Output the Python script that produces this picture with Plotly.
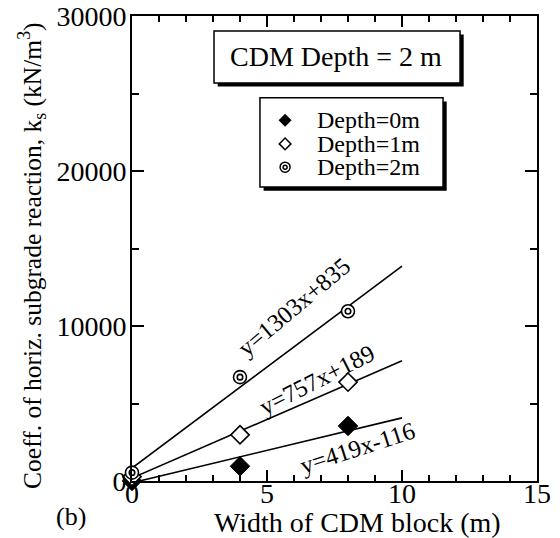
import plotly.graph_objects as go

# ---- data ----
width_m = [0, 4, 8]
ks_depth0 = [0, 950, 3550]
ks_depth1 = [280, 2980, 6380]
ks_depth2 = [540, 6700, 10950]

fit_slopes = [419, 757, 1303]
fit_intercepts = [-116, 189, 835]
fit_labels = ["y=419x-116", "y=757x+189", "y=1303x+835"]
fit_x = [0, 10]

legend_labels = ["Depth=0m", "Depth=1m", "Depth=2m"]

FONT = "Liberation Serif, Times New Roman, serif"
BLK = "black"

fig = go.Figure()

# fit lines
for m, b in zip(fit_slopes, fit_intercepts):
    fig.add_trace(go.Scatter(x=fit_x, y=[m * x + b for x in fit_x], mode="lines",
                             line=dict(color=BLK, width=1.6), showlegend=False,
                             hoverinfo="skip"))

# data markers
fig.add_trace(go.Scatter(x=width_m, y=ks_depth0, mode="markers", cliponaxis=False,
                         marker=dict(symbol="diamond", size=15, color=BLK,
                                     line=dict(color=BLK, width=1)), showlegend=False))
fig.add_trace(go.Scatter(x=width_m, y=ks_depth1, mode="markers", cliponaxis=False,
                         marker=dict(symbol="diamond", size=14, color="white",
                                     line=dict(color=BLK, width=1.6)), showlegend=False))
fig.add_trace(go.Scatter(x=width_m, y=ks_depth2, mode="markers", cliponaxis=False,
                         marker=dict(symbol="circle", size=13, color="white",
                                     line=dict(color=BLK, width=1.6)), showlegend=False))
fig.add_trace(go.Scatter(x=width_m, y=ks_depth2, mode="markers", cliponaxis=False,
                         marker=dict(symbol="circle-open", size=5.5, color=BLK,
                                     line=dict(color=BLK, width=1.6)), showlegend=False))

# legend glyphs on an overlay axis in fractional units
leg_x = 0.378
leg_y = [0.776, 0.725, 0.675]
fig.add_trace(go.Scatter(x=[leg_x], y=[leg_y[0]], xaxis="x2", yaxis="y2", mode="markers",
                         marker=dict(symbol="diamond", size=10, color=BLK), showlegend=False))
fig.add_trace(go.Scatter(x=[leg_x], y=[leg_y[1]], xaxis="x2", yaxis="y2", mode="markers",
                         marker=dict(symbol="diamond", size=9, color="white",
                                     line=dict(color=BLK, width=1.5)), showlegend=False))
fig.add_trace(go.Scatter(x=[leg_x], y=[leg_y[2]], xaxis="x2", yaxis="y2", mode="markers",
                         marker=dict(symbol="circle", size=10, color="white",
                                     line=dict(color=BLK, width=1.5)), showlegend=False))
fig.add_trace(go.Scatter(x=[leg_x], y=[leg_y[2]], xaxis="x2", yaxis="y2", mode="markers",
                         marker=dict(symbol="circle-open", size=4, color=BLK,
                                     line=dict(color=BLK, width=1.5)), showlegend=False))

shapes = []
def boxed(x0, y0, x1, y1, dx=0.009, dy=0.0078):
    shapes.append(dict(type="rect", xref="paper", yref="paper", x0=x0 + dx, x1=x1 + dx,
                       y0=y0 - dy, y1=y1 - dy, fillcolor=BLK, line=dict(width=0),
                       layer="below"))
    shapes.append(dict(type="rect", xref="paper", yref="paper", x0=x0, x1=x1,
                       y0=y0, y1=y1, fillcolor="white", line=dict(color=BLK, width=1.5),
                       layer="below"))

boxed(0.2025, 0.856, 0.81, 0.968)
boxed(0.316, 0.632, 0.768, 0.824)

annotations = [
    dict(text="CDM Depth = 2 m", xref="paper", yref="paper", x=0.504, y=0.912,
         showarrow=False, font=dict(size=28, family=FONT, color=BLK),
         xanchor="center", yanchor="middle"),
    dict(text="Width of CDM block (m)", xref="paper", yref="paper", x=0.556, y=-0.090,
         showarrow=False, font=dict(size=28, family=FONT, color=BLK),
         xanchor="center", yanchor="middle"),
    dict(text="Coeff. of horiz. subgrade reaction, k<sub>s</sub> (kN/m<sup>3</sup>)",
         xref="paper", yref="paper", x=-0.247, y=0.484, textangle=-90,
         showarrow=False, font=dict(size=25.5, family=FONT, color=BLK),
         xanchor="center", yanchor="middle"),
    dict(text="(b)", xref="paper", yref="paper", x=-0.150, y=-0.077,
         showarrow=False, font=dict(size=26, family=FONT, color=BLK),
         xanchor="center", yanchor="middle"),
]
for lab, yy in zip(legend_labels, leg_y):
    annotations.append(dict(text=lab, xref="paper", yref="paper", x=0.452, y=yy,
                            showarrow=False, font=dict(size=24, family=FONT, color=BLK),
                            xanchor="left", yanchor="middle"))

label_pos = [(8.37, 2130, 18), (6.85, 6550, 27), (6.0, 11250, 40)]
for lab, (lx, ly, ang) in zip(fit_labels, label_pos):
    annotations.append(dict(text=lab, x=lx, y=ly, xref="x", yref="y", showarrow=False,
                            textangle=-ang, font=dict(size=24.5, family=FONT, color=BLK),
                            xanchor="center", yanchor="middle"))

axis_common = dict(showline=True, linecolor=BLK, linewidth=2, mirror="ticks",
                   ticks="inside", tickcolor=BLK, tickwidth=1.5, showgrid=False,
                   zeroline=False, tickformat="d", automargin=False,
                   tickfont=dict(size=28, family=FONT, color=BLK))

fig.update_layout(
    width=560, height=538,
    margin=dict(l=132, r=23, t=16, b=57),
    paper_bgcolor="white", plot_bgcolor="rgba(0,0,0,0)",
    showlegend=False,
    xaxis=dict(range=[0, 15], dtick=5, ticklen=11, ticklabelstandoff=-14,
               minor=dict(dtick=1, ticklen=6, ticks="inside", tickcolor=BLK, tickwidth=1.5),
               **axis_common),
    yaxis=dict(range=[0, 30000], dtick=10000, ticklen=12, ticklabelstandoff=-2,
               minor=dict(dtick=5000, ticklen=7, ticks="inside", tickcolor=BLK, tickwidth=1.5),
               **axis_common),
    xaxis2=dict(range=[0, 1], overlaying="x", visible=False),
    yaxis2=dict(range=[0, 1], overlaying="y", visible=False),
    shapes=shapes,
    annotations=annotations,
)

fig.write_html("out.html")
